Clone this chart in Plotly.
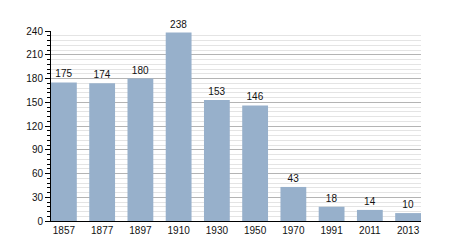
import plotly.graph_objects as go

years = ["1857", "1877", "1897", "1910", "1930", "1950", "1970", "1991", "2011", "2013"]
population = [175, 174, 180, 238, 153, 146, 43, 18, 14, 10]

xpos = list(range(len(years)))
gap = 0.325

fig = go.Figure(go.Bar(
    x=xpos, y=population,
    marker=dict(color="#97b0cb", line=dict(width=0)),
    text=[str(v) for v in population],
    textposition="outside",
    cliponaxis=False,
    textfont=dict(family="Liberation Sans", size=10, color="#111"),
))

fig.update_layout(
    width=450, height=250,
    margin=dict(l=51, r=29, t=31, b=29),
    paper_bgcolor="white", plot_bgcolor="white",
    bargap=gap,
    showlegend=False,
    font=dict(family="Liberation Sans", size=10, color="#111"),
)
fig.update_xaxes(
    range=[-0.5 + gap / 2, len(years) - 0.5 - gap / 2],
    tickvals=xpos, ticktext=years,
    showgrid=False, zeroline=False,
    showline=True, linecolor="black", linewidth=1,
    ticks="", tickfont=dict(size=10),
)
fig.update_yaxes(
    range=[0, 240], dtick=30, tick0=0,
    showgrid=True, gridcolor="#b4b4b4", gridwidth=1,
    zeroline=False,
    showline=True, linecolor="black", linewidth=1,
    ticks="outside", ticklen=5, tickcolor="black", tickwidth=1,
    tickfont=dict(size=10),
    minor=dict(dtick=6, showgrid=True, gridcolor="#e4e4e4", gridwidth=1,
               ticks="outside", ticklen=3, tickcolor="black", tickwidth=1),
)

fig.write_html("out.html")
